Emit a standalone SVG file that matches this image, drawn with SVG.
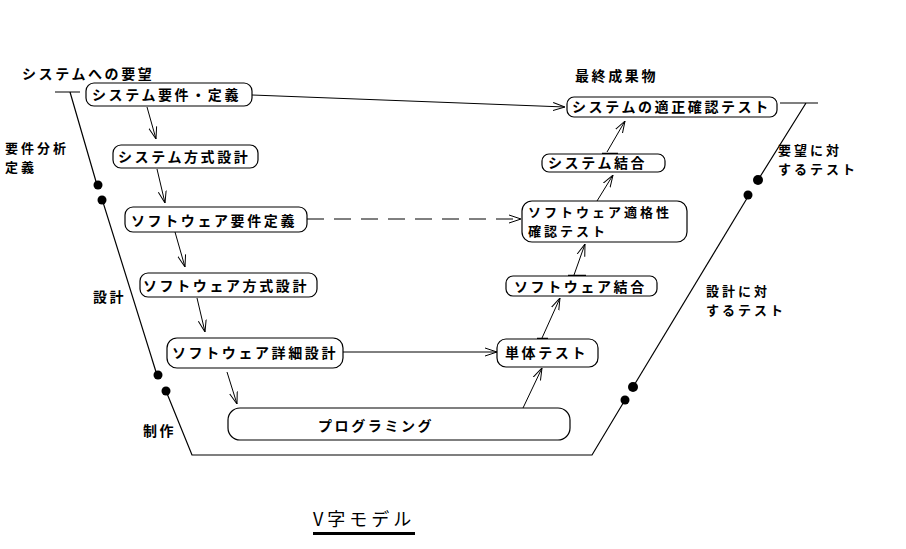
<svg xmlns="http://www.w3.org/2000/svg" width="906" height="549" viewBox="0 0 906 549">
<style>
.n{fill:#fff;stroke:#000;stroke-width:1.2}
text{font-family:"Noto Sans CJK JP","Noto Sans",sans-serif;font-size:14px;font-weight:bold;fill:#000;letter-spacing:2.6px}
text.s{font-size:13px;letter-spacing:3px}
.c{fill:none;stroke:#000;stroke-width:1}
.v{fill:none;stroke:#000;stroke-width:1.2}
.d{fill:#000}
.bar{stroke:#000;stroke-width:2.5}
</style>
<defs>
<marker id="a" viewBox="0 0 12 10" refX="12" refY="5" markerWidth="12" markerHeight="10" markerUnits="userSpaceOnUse" orient="auto">
<path d="M0,1 L12,5 L0,9" fill="none" stroke="#000" stroke-width="1"/>
</marker>
</defs>
<rect width="906" height="549" fill="#fff"/>
<g id="vshape">
<path class="v" d="M55,92 H80 M70,92 L97,185"/>
<path class="v" d="M102,199 L157,375"/>
<path class="v" d="M166,391 L192,455 H592 L625,400"/>
<path class="v" d="M633,387 L749,195"/>
<path class="v" d="M758,180 L806,103 M780,103 H818"/>
<circle class="d" cx="98" cy="185" r="4.5"/>
<circle class="d" cx="102" cy="200" r="4.5"/>
<circle class="d" cx="158" cy="375" r="4.5"/>
<circle class="d" cx="166" cy="391" r="4.5"/>
<circle class="d" cx="625" cy="400" r="4.5"/>
<circle class="d" cx="633" cy="387" r="5"/>
<circle class="d" cx="748" cy="195" r="4.5"/>
<circle class="d" cx="758" cy="180" r="5"/>
</g>
<g id="connectors">
<path class="c" d="M252,95 L565,107" marker-end="url(#a)"/>
<path class="c" d="M147,107 L156,139" marker-end="url(#a)"/>
<path class="c" d="M157,169 L165,203" marker-end="url(#a)"/>
<path class="c" d="M175,232 L185,267" marker-end="url(#a)"/>
<path class="c" d="M197,298 L205,332" marker-end="url(#a)"/>
<path class="c" d="M227,372 L237,404" marker-end="url(#a)"/>
<path class="c" d="M343,352 L497,352" marker-end="url(#a)"/>
<path class="c" d="M523,408 L542,368" marker-end="url(#a)"/>
<path class="c" d="M542,338 L560,298" marker-end="url(#a)"/>
<path class="c" d="M574,275 L585,244" marker-end="url(#a)"/>
<path class="c" d="M597,201 L613,175" marker-end="url(#a)"/>
<path class="c" d="M607,152 L625,121" marker-end="url(#a)"/>
<path class="c" d="M307,219 L521,219" stroke-dasharray="17,10" marker-end="url(#a)"/>
<path class="bar" d="M537,339 H548 M568,276 H586 M602,154 H618"/>
</g>
<g id="n1"><rect class="n" x="86" y="83" width="166" height="23" rx="8"/><text x="92" y="100">システム要件・定義</text></g>
<g id="n2"><rect class="n" x="113" y="145" width="145" height="23" rx="8"/><text x="118" y="162">システム方式設計</text></g>
<g id="n3"><rect class="n" x="125" y="207" width="182" height="25" rx="8"/><text x="131" y="226">ソフトウェア要件定義</text></g>
<g id="n4"><rect class="n" x="140" y="273" width="177" height="24" rx="8"/><text x="143" y="291">ソフトウェア方式設計</text></g>
<g id="n5"><rect class="n" x="167" y="338" width="176" height="30" rx="10"/><text x="172" y="358">ソフトウェア詳細設計</text></g>
<g id="n6"><rect class="n" x="228" y="408" width="342" height="32" rx="12"/><text x="318" y="431">プログラミング</text></g>
<g id="n7"><rect class="n" x="497" y="339" width="101" height="28" rx="9"/><text x="505" y="358">単体テスト</text></g>
<g id="n8"><rect class="n" x="506" y="276" width="151" height="20" rx="7"/><text x="514" y="292">ソフトウェア結合</text></g>
<g id="n9"><rect class="n" x="522" y="201" width="165" height="41" rx="10"/><text class="s" x="528" y="217">ソフトウェア適格性</text><text class="s" x="528" y="236">確認テスト</text></g>
<g id="n10"><rect class="n" x="542" y="154" width="123" height="18" rx="7"/><text x="548" y="168">システム結合</text></g>
<g id="n11"><rect class="n" x="567" y="97" width="210" height="20" rx="7"/><text x="572" y="112">システムの適正確認テスト</text></g>
<g id="labels">
<text x="22" y="79">システムへの要望</text>
<text class="s" x="5" y="153">要件分析</text>
<text class="s" x="5" y="172">定義</text>
<text x="93" y="302">設計</text>
<text x="143" y="436">制作</text>
<text x="575" y="81">最終成果物</text>
<text class="s" x="778" y="155">要望に対</text>
<text class="s" x="778" y="174">するテスト</text>
<text class="s" x="706" y="296">設計に対</text>
<text class="s" x="706" y="315">するテスト</text>
<text x="313" y="526" style="font-size:18px;letter-spacing:4px;font-weight:normal">V字モデル</text>
<path d="M313,533.5 H415" stroke="#000" stroke-width="3"/>
</g>
</svg>
